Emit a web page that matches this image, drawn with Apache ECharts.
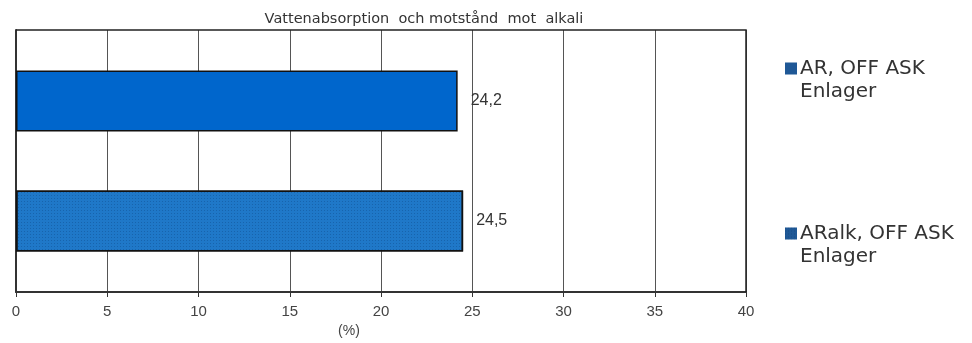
<!DOCTYPE html>
<html>
<head>
<meta charset="utf-8">
<script src="https://cdn.jsdelivr.net/npm/echarts@6/dist/echarts.min.js"></script>
<style>
  html, body { margin: 0; padding: 0; background: #fff; }
  #chart { width: 972px; height: 343px; }
</style>
</head>
<body>
<div id="chart"></div>
<script>
// Two samples, each drawn as its own series within a single category
const seriesNames = ['AR, OFF ASK\nEnlager', 'ARalk, OFF ASK\nEnlager'];
const categories = [''];
const absorption = [24.2, 24.5];
const valueLabels = ['24,2', '24,5'];
const barColors = ['#0066cc', '#1f78c8'];
const xTicks = [0, 5, 10, 15, 20, 25, 30, 35, 40];

const chart = echarts.init(document.getElementById('chart'));

const series = seriesNames.map((name, i) => ({
  name: name,
  type: 'bar',
  barWidth: 61,
  barGap: '97%',
  data: [absorption[i]],
  itemStyle: {
    color: barColors[i],
    borderColor: '#111',
    borderWidth: 1.5,
    decal: i === 1 ? {
      symbol: 'rect',
      symbolSize: 1,
      dashArrayX: [1, 2],
      dashArrayY: [1, 2],
      color: 'rgba(0, 40, 90, 0.25)',
      rotation: 0
    } : null
  },
  label: {
    show: true,
    position: 'right',
    distance: 13,
    color: '#333',
    fontFamily: 'Liberation Sans, Arial',
    fontSize: 16,
    formatter: () => valueLabels[i]
  }
}));

// Legend swatch sits beside the first text line of each entry
const swatch = 'path://M0,0h12v12h-12z M0,35h0.01v0.01h-0.01z';

chart.setOption({
  animation: false,
  backgroundColor: '#fff',
  title: {
    text: 'Vattenabsorption  och motstånd  mot  alkali',
    left: 419,
    textAlign: 'center',
    top: 7,
    textStyle: { fontFamily: 'DejaVu Sans', fontSize: 14.5, fontWeight: 'normal', color: '#333' }
  },
  legend: {
    orient: 'vertical',
    left: 785,
    top: 57,
    padding: 0,
    itemGap: 119,
    itemWidth: 12,
    itemHeight: 35,
    icon: swatch,
    itemStyle: { color: '#1f5896', borderWidth: 0 },
    data: seriesNames,
    textStyle: { fontFamily: 'DejaVu Sans', fontSize: 20, color: '#333', lineHeight: 23, padding: [0, 0, 0, -2] }
  },
  grid: { left: 16, right: 226, top: 30, bottom: 51, containLabel: false },
  xAxis: {
    type: 'value',
    min: 0,
    max: 40,
    interval: 5,
    name: '(%)',
    nameLocation: 'middle',
    nameGap: 32,
    nameTextStyle: { fontFamily: 'Liberation Sans, Arial', fontSize: 14, color: '#444', padding: [0, 64, 0, 0] },
    axisLine: { show: true, lineStyle: { color: '#333', width: 2 } },
    axisTick: { show: true, length: 5, lineStyle: { color: '#333' } },
    axisLabel: {
      margin: 12,
      fontFamily: 'Liberation Sans, Arial',
      fontSize: 15,
      color: '#444',
      formatter: v => (xTicks.includes(v) ? String(v) : '')
    },
    splitLine: { show: true, lineStyle: { color: '#555', width: 1 } }
  },
  yAxis: {
    type: 'category',
    inverse: true,
    data: categories,
    axisLine: { show: true, lineStyle: { color: '#333', width: 2 } },
    axisTick: { show: false },
    axisLabel: { show: false },
    splitLine: { show: false }
  },
  series: series
});

// Frame on the top and right edges of the plot area
const g = chart.getModel().getComponent('grid').coordinateSystem.getRect();
chart.setOption({
  graphic: [{
    type: 'polyline',
    shape: { points: [[g.x, g.y], [g.x + g.width, g.y], [g.x + g.width, g.y + g.height]] },
    style: { stroke: '#222', lineWidth: 1.5, fill: null },
    z: 10
  }]
});
</script>
</body>
</html>
